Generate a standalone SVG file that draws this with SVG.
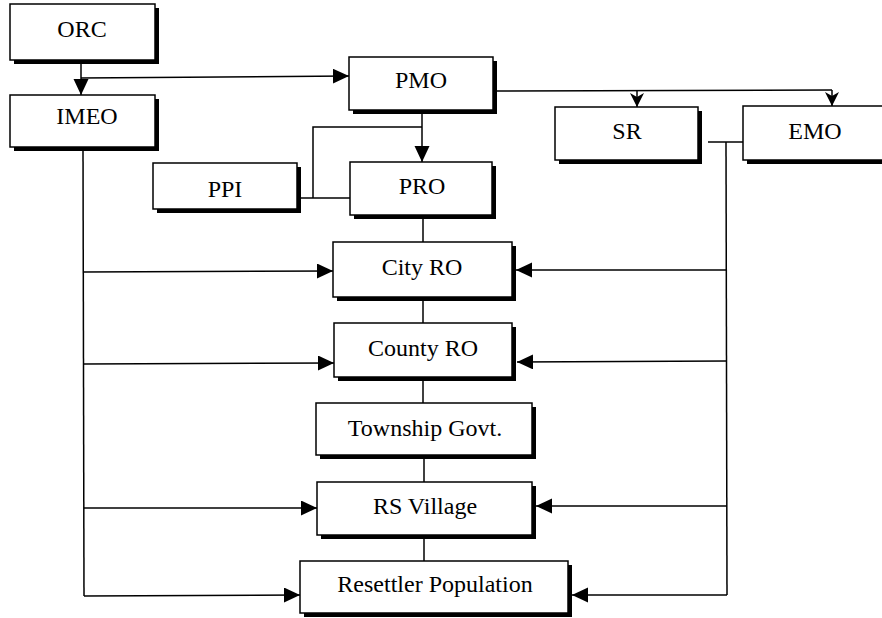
<svg xmlns="http://www.w3.org/2000/svg" width="882" height="618" viewBox="0 0 882 618">
<style>
.box{fill:#fff;stroke:#000;stroke-width:1.5}
.sh{fill:#000}
.t{font-family:"Liberation Serif","Times New Roman",serif;font-size:24px;fill:#000;text-anchor:middle}
.c{fill:none;stroke:#000;stroke-width:1.5}
.a{marker-end:url(#ah)}
.s{marker-end:url(#sa)}
</style>
<defs>
<marker id="ah" markerUnits="userSpaceOnUse" markerWidth="18" markerHeight="16" refX="16" refY="7.5" orient="auto">
<path d="M0,0 L16,7.5 L0,15 z" fill="#000"/>
</marker>
<marker id="sa" markerUnits="userSpaceOnUse" markerWidth="16" markerHeight="16" refX="14" refY="7" orient="auto">
<path d="M0,0 L14,7 L0,14 L4,7 z" fill="#000"/>
</marker>
</defs>
<rect width="882" height="618" fill="#fff"/>
<g id="connectors">
<line class="c a" x1="81" y1="60" x2="81" y2="95"/>
<line class="c a" x1="81" y1="78" x2="349" y2="76"/>
<line class="c a" x1="422" y1="110" x2="422" y2="162"/>
<polyline class="c" points="422,127 313,127 313,198"/>
<line class="c" x1="299" y1="198" x2="350" y2="198"/>
<line class="c" x1="497" y1="91" x2="832" y2="90"/>
<line class="c s" x1="637" y1="91" x2="637" y2="107"/>
<line class="c s" x1="832" y1="90" x2="832" y2="106"/>
<line class="c" x1="708" y1="142" x2="743" y2="142"/>
<line class="c" x1="726" y1="142" x2="727" y2="595"/>
<line class="c a" x1="726" y1="270" x2="516" y2="270"/>
<line class="c a" x1="727" y1="361" x2="517" y2="362"/>
<line class="c a" x1="727" y1="506" x2="536" y2="506"/>
<line class="c a" x1="727" y1="595" x2="572" y2="595"/>
<line class="c" x1="83" y1="147" x2="84" y2="596"/>
<line class="c a" x1="83" y1="272" x2="333" y2="271"/>
<line class="c a" x1="84" y1="364" x2="334" y2="363"/>
<line class="c a" x1="84" y1="508" x2="317" y2="508"/>
<line class="c a" x1="84" y1="596" x2="300" y2="595"/>
<line class="c" x1="423" y1="215" x2="423" y2="242"/>
<line class="c" x1="423" y1="301" x2="423" y2="323"/>
<line class="c" x1="423" y1="381" x2="423" y2="403"/>
<line class="c" x1="424" y1="459" x2="424" y2="482"/>
<line class="c" x1="424" y1="539" x2="424" y2="561"/>
</g>
<g id="ORC"><rect class="sh" x="14" y="8" width="145" height="56"/><rect class="box" x="10" y="4" width="145" height="56"/><text class="t" x="82" y="37">ORC</text></g>
<g id="IMEO"><rect class="sh" x="14" y="99" width="145" height="52"/><rect class="box" x="10" y="95" width="145" height="52"/><text class="t" x="87" y="124">IMEO</text></g>
<g id="PMO"><rect class="sh" x="353" y="61" width="144" height="53"/><rect class="box" x="349" y="57" width="144" height="53"/><text class="t" x="421" y="88">PMO</text></g>
<g id="SR"><rect class="sh" x="559" y="111" width="143" height="53"/><rect class="box" x="555" y="107" width="143" height="53"/><text class="t" x="627" y="139">SR</text></g>
<g id="EMO"><rect class="sh" x="747" y="110" width="150" height="54"/><rect class="box" x="743" y="106" width="150" height="54"/><text class="t" x="815" y="139">EMO</text></g>
<g id="PPI"><rect class="sh" x="157" y="167" width="144" height="46"/><rect class="box" x="153" y="163" width="144" height="46"/><text class="t" x="225" y="197">PPI</text></g>
<g id="PRO"><rect class="sh" x="354" y="166" width="142" height="53"/><rect class="box" x="350" y="162" width="142" height="53"/><text class="t" x="422" y="194">PRO</text></g>
<g id="CityRO"><rect class="sh" x="337" y="246" width="179" height="55"/><rect class="box" x="333" y="242" width="179" height="55"/><text class="t" x="422" y="275">City RO</text></g>
<g id="CountyRO"><rect class="sh" x="338" y="327" width="178" height="54"/><rect class="box" x="334" y="323" width="178" height="54"/><text class="t" x="423" y="356">County RO</text></g>
<g id="TownshipGovt"><rect class="sh" x="320" y="407" width="216" height="52"/><rect class="box" x="316" y="403" width="216" height="52"/><text class="t" x="425" y="436">Township Govt.</text></g>
<g id="RSVillage"><rect class="sh" x="321" y="486" width="215" height="53"/><rect class="box" x="317" y="482" width="215" height="53"/><text class="t" x="425" y="514">RS Village</text></g>
<g id="ResettlerPopulation"><rect class="sh" x="304" y="565" width="268" height="52"/><rect class="box" x="300" y="561" width="268" height="52"/><text class="t" x="435" y="592">Resettler Population</text></g>
</svg>
